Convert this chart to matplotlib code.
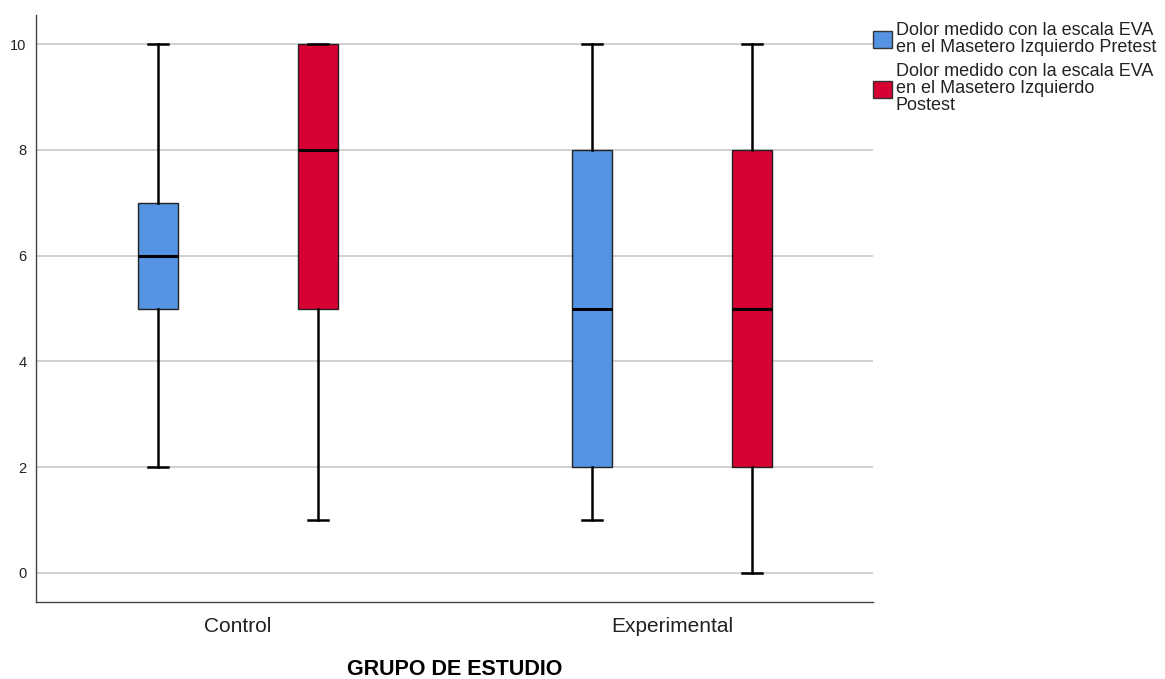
import matplotlib.pyplot as plt
from matplotlib.patches import Patch

plt.rcParams['font.family'] = ['Liberation Sans', 'DejaVu Sans']

# five-number summaries per group (min, q1, median, q3, max)
groups = ['Control', 'Experimental']
pretest = [[2, 5, 6, 7, 10], [1, 2, 5, 8, 10]]
postest = [[1, 5, 8, 10, 10], [0, 2, 5, 8, 10]]
series_names = ['Dolor medido con la escala EVA\nen el Masetero Izquierdo Pretest',
                'Dolor medido con la escala EVA\nen el Masetero Izquierdo\nPostest']
series_colors = ['#5594e3', '#d60032']
y_ticks = [0, 2, 4, 6, 8, 10]


def make_stats(vals):
    lo, q1, med, q3, hi = vals
    return dict(whislo=lo, q1=q1, med=med, q3=q3, whishi=hi, fliers=[])


fig = plt.figure(figsize=(11.65, 6.79), dpi=100)
ax = fig.add_axes([0.0309, 0.1134, 0.7185, 0.8645])

offset = 0.184
width = 0.092
for k, (data, color) in enumerate(zip([pretest, postest], series_colors)):
    pos = [i + (k * 2 - 1) * offset for i in range(len(groups))]
    ax.bxp([make_stats(v) for v in data], positions=pos, widths=width,
           patch_artist=True, showfliers=False, capwidths=width / 2,
           boxprops=dict(facecolor=color, edgecolor='#222222', linewidth=1.0),
           medianprops=dict(color='black', linewidth=2.2),
           whiskerprops=dict(color='black', linewidth=1.8),
           capprops=dict(color='black', linewidth=1.8),
           manage_ticks=False, zorder=3)

ax.set_xlim(-0.465, 1.463)
ax.set_ylim(-0.55, 10.55)
ax.set_yticks(y_ticks)
ax.set_xticks(range(len(groups)))
ax.set_xticklabels(groups, fontsize=15, color='#222222')
ax.tick_params(axis='y', length=0, labelsize=10.5, pad=7, labelcolor='#222222')
ax.tick_params(axis='x', length=0, pad=11)
ax.yaxis.grid(True, color='#c8c8c8', linewidth=1.2)
ax.set_axisbelow(True)
for s in ['top', 'right']:
    ax.spines[s].set_visible(False)
for s in ['left', 'bottom']:
    ax.spines[s].set_color('#444444')
    ax.spines[s].set_linewidth(1.0)

ax.set_xlabel('GRUPO DE ESTUDIO', fontsize=15.5, fontweight='bold', va='center')
ax.xaxis.set_label_coords(0.5, -0.115)

handles = [Patch(facecolor=c, edgecolor='#333333', linewidth=1.0) for c in series_colors]
leg = fig.legend(handles, series_names, loc='upper left', bbox_to_anchor=(0.7435, 0.978),
                 frameon=False, fontsize=13, handlelength=1.05, handleheight=1.05,
                 handletextpad=0.2, labelspacing=0.4, borderaxespad=0)
for t in leg.get_texts():
    t.set_linespacing(1.0)
    t.set_color('#222222')

fig.savefig('out.png', dpi=100)
